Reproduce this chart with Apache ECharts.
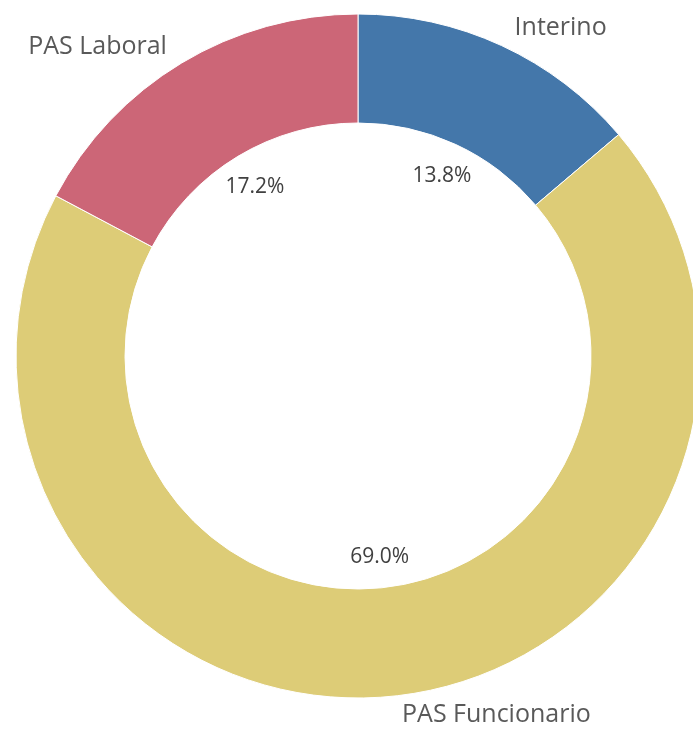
<!DOCTYPE html>
<html>
<head>
<meta charset="utf-8">
<style>
  html, body { margin: 0; padding: 0; background: #fff; }
  #chart { width: 693px; height: 734px; }
</style>
<script src="https://cdn.jsdelivr.net/npm/echarts@6/dist/echarts.min.js"></script>
</head>
<body>
<div id="chart"></div>
<script>
const categories = ['Interino', 'PAS Funcionario', 'PAS Laboral']
const counts = [8, 40, 10]
const colors = ['#4477aa', '#ddcc77', '#cc6677']

const chart = echarts.init(document.getElementById('chart'))

const slices = categories.map((name, i) => ({
  name: name,
  value: counts[i],
  itemStyle: { color: colors[i] }
}))

chart.setOption({
  animation: false,
  textStyle: { fontFamily: 'Open Sans' },
  series: [
    {
      // the ring with category names outside
      type: 'pie',
      center: [358, 356],
      radius: [233, 342],
      startAngle: 90,
      avoidLabelOverlap: false,
      silent: true,
      itemStyle: { borderColor: '#fff', borderWidth: 1 },
      label: {
        show: true,
        position: 'outside',
        formatter: '{b}',
        fontSize: 25,
        color: '#595959'
      },
      labelLine: { show: false, length: 19, length2: 0 },
      data: slices
    },
    {
      // invisible ring, only carries the percent labels inside the hole
      type: 'pie',
      center: [358, 358],
      radius: [163, 231],
      startAngle: 90,
      silent: true,
      itemStyle: { color: 'rgba(0,0,0,0)' },
      label: {
        show: true,
        position: 'inside',
        formatter: p => p.percent.toFixed(1) + '%',
        fontSize: 21,
        color: '#404040'
      },
      labelLine: { show: false },
      data: categories.map((name, i) => ({ name: name, value: counts[i] }))
    }
  ]
})
</script>
</body>
</html>
